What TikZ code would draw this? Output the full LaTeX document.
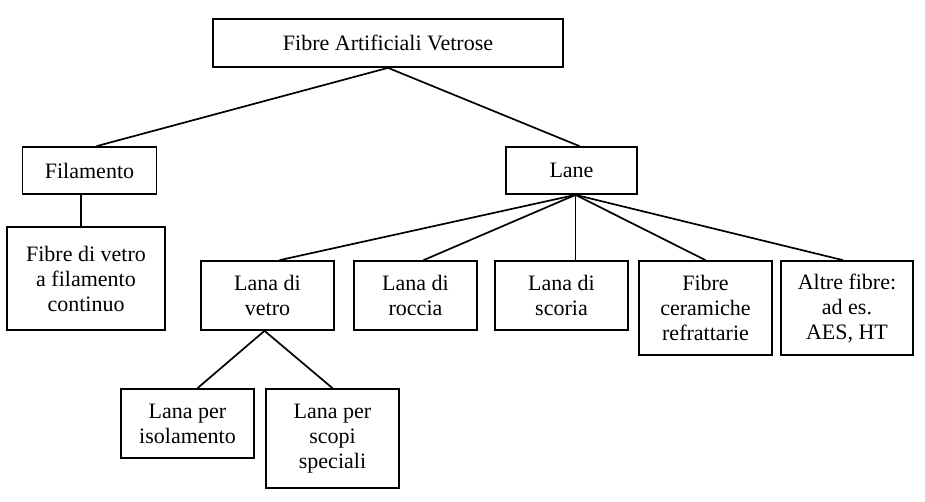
\documentclass[tikz,border=0pt]{standalone}
\usepackage{fontspec}
\setmainfont{Liberation Serif}
\tikzset{
  box/.style={draw, line width=1.7pt, inner sep=0pt, align=center,
    font=\fontsize{22}{25}\selectfont},
}
\begin{document}
\begin{tikzpicture}[x=1pt,y=-1pt]
      \useasboundingbox (0,0) rectangle (925,501);
      \draw
        (388,43) node[box, minimum width=350pt, minimum height=48pt] (fav){Fibre Artificiali Vetrose}
        (89.5,170.5) node[box, minimum width=134pt, minimum height=47pt] (fil){Filamento}
        (571.5,170.5) node[box, minimum width=131pt, minimum height=47pt] (lane){Lane}
        (86,278.5) node[box, minimum width=158pt, minimum height=103pt] (fdv){Fibre di vetro\\a filamento\\continuo}
        (267.5,295.5) node[box, minimum width=133pt, minimum height=69pt] (vetro){Lana di\\vetro}
        (415.5,295.5) node[box, minimum width=123pt, minimum height=69pt] (roccia){Lana di\\roccia}
        (561.5,295.5) node[box, minimum width=133pt, minimum height=69pt] (scoria){Lana di\\scoria}
        (705.5,308) node[box, minimum width=133pt, minimum height=94pt] (ceram){Fibre\\ceramiche\\refrattarie}
        (847,308) node[box, minimum width=132pt, minimum height=94pt] (altre){Altre fibre:\\ad es.\\AES, HT}
        (187.5,423.5) node[box, minimum width=133pt, minimum height=69pt] (isol){Lana per\\isolamento}
        (332.5,438.5) node[box, minimum width=133pt, minimum height=99pt] (spec){Lana per\\scopi\\speciali};
      \begin{scope}[-, line width=1.7pt]
        \draw (fav.south) to ([xshift=7pt]fil.north);
        \draw (fav.south) to ([xshift=8pt]lane.north);
        \draw ([xshift=-5pt]fdv.north) to ([xshift=-5pt]fdv.north |- fil.south);
        \draw ([xshift=4pt]lane.south) to ([xshift=12pt]vetro.north);
        \draw ([xshift=4pt]lane.south) to ([xshift=8pt]roccia.north);
        \draw ([xshift=4pt]lane.south) to ([xshift=14pt]scoria.north);
        \draw ([xshift=4pt]lane.south) to (ceram.north);
        \draw ([xshift=4pt]lane.south) to ([xshift=-4pt]altre.north);
        \draw ([xshift=-3pt]vetro.south) to ([xshift=10pt]isol.north);
        \draw ([xshift=-3pt]vetro.south) to (spec.north);
      \end{scope}
    \end{tikzpicture}
\end{document}
